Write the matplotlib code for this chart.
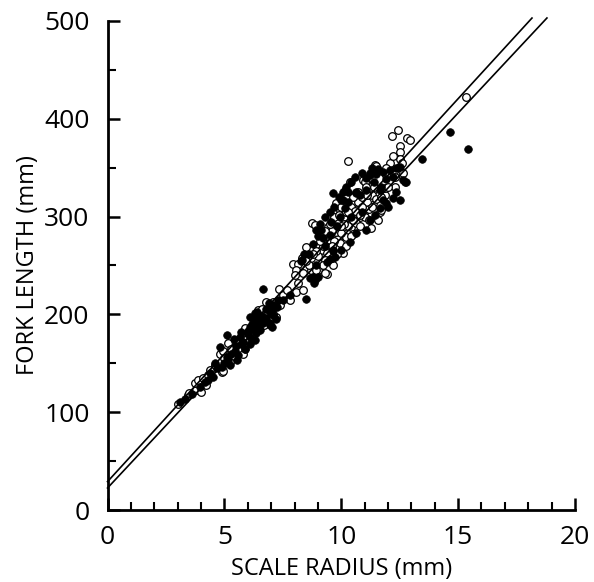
import matplotlib
matplotlib.use("Agg")
import matplotlib.pyplot as plt
import numpy as np

plt.rcParams["font.family"] = ["Open Sans", "DejaVu Sans"]

# filled circles (scale radius mm, fork length mm)
filled_x = [3.1, 3.3, 3.6, 3.95, 4.15, 4.52, 4.88, 5.23, 5.17, 4.8, 5.1, 5.52, 5.6, 5.45,
            5.1, 5.7, 5.66, 5.73, 5.95, 6.08, 6.3, 6.37, 6.16, 6.09, 6.3, 6.52, 6.8, 6.95,
            7.02, 6.94, 7.23, 6.66, 6.93, 7.02, 7.08, 6.38, 6.24, 6.09, 6.66, 6.52, 6.94,
            7.8, 8.51, 8.27, 8.87, 9.0, 8.82, 9.5, 9.66, 8.94, 8.3, 9.65, 9.37, 9.22, 9.51,
            9.15, 9.58, 9.94, 10.15, 10.0, 10.08, 10.29, 10.65, 10.79, 11.08, 11.22, 11.5,
            11.57, 11.79, 12.07, 12.5, 12.71, 12.36, 12.5, 12.21, 11.93, 11.65, 11.43, 11.22,
            11.08, 10.65, 10.36, 10.0, 9.72, 13.45, 12.36, 12.64, 12.79, 11.22, 11.08, 10.15,
            10.65, 10.08, 11.65, 11.79, 12.0, 9.65, 14.67, 15.44, 8.79, 8.65, 4.6, 4.4,
            9.3, 9.8, 10.4, 10.9, 5.9, 6.2, 7.5,
            4.3, 4.7, 5.0, 5.3, 5.5, 5.8, 6.0, 6.2, 6.4, 6.6, 6.8, 7.1, 7.3, 5.4, 5.9,
            6.1, 6.5, 7.2, 8.6, 8.8, 9.0, 9.1, 9.3, 9.5, 9.7, 9.9, 10.2, 10.4, 10.6,
            10.9, 11.3, 10.3, 11.4, 11.9, 12.2, 8.4, 8.9, 11.7]
filled_y = [110.7, 114, 119, 126, 131, 136, 146, 148, 153, 167, 156.5, 153, 158, 163,
            179, 170, 177, 182, 180.7, 177, 174, 181, 185.8, 197.7, 201, 194, 196, 191,
            187.5, 202.8, 208, 225.6, 212, 204.5, 199.5, 202.8, 196, 187.4, 191, 184, 189,
            219.8, 215.4, 255, 235, 238, 231.6, 257, 265, 286, 255.6, 265.8, 254, 277.8, 281,
            286, 294.8, 299.9, 308.5, 317, 325.5, 325.5, 323.8, 322, 327, 342.5, 344,
            349, 346, 347.6, 351, 335.7, 325.5, 317, 318.7, 313.6, 308.5, 301.6, 296.5,
            286.3, 283, 274.3, 265.8, 259, 358.6, 349.4, 337.4, 335.7, 344.3, 339, 327,
            325.5, 317, 327, 317, 310, 323.8, 386.5, 369, 238.5, 237, 150, 140,
            270, 290, 300, 305, 165, 190, 215,
            133, 145, 150, 160, 168, 172, 183, 188, 190, 198, 205, 210, 215, 175, 165,
            170, 186, 195, 262, 272, 280, 292, 300, 305, 310, 320, 330, 335, 340,
            345, 350, 315, 335, 338, 340, 262, 250, 330]

# open circles
open_x = [3.0, 3.45, 3.78, 4.02, 3.74, 3.88, 4.1, 4.31, 4.38, 4.88, 4.95, 5.23, 4.8, 4.94,
          5.16, 5.8, 5.87, 6.45, 6.44, 6.68, 7.01, 7.08, 7.34, 6.78, 7.37, 7.22, 5.87, 7.8,
          8.08, 8.37, 8.15, 7.94, 8.22, 8.51, 8.72, 9.01, 9.37, 10.29, 10.36, 8.73, 8.87,
          8.14, 8.08, 8.37, 8.94, 9.3, 9.65, 10.08, 11.08, 10.93, 11.43, 12.07, 11.93, 12.57,
          12.29, 11.57, 11.86, 11.65, 11.29, 11.57, 9.65, 10.86, 10.58, 10.43, 10.22, 9.86,
          9.51, 9.15, 9.37, 10.79, 10.5, 10.29, 10.08, 9.79, 9.51, 9.44, 9.94, 10.65, 11.08,
          11.36, 11.22, 12.43, 12.15, 12.81, 12.96, 12.5, 12.53, 12.5, 11.5, 12.64, 11.0,
          11.08, 11.36, 11.86, 11.72, 9.79, 9.94, 15.32, 9.2, 9.4, 9.6, 9.7, 9.9, 10.0,
          10.1, 10.2, 10.3, 10.4, 10.5, 10.6, 10.7, 10.8, 10.9, 11.0, 11.1, 11.2, 11.3,
          11.4, 10.0, 9.8, 9.6, 9.3, 9.0, 8.9, 8.7, 8.6, 10.5, 10.2,
          3.5, 4.2, 4.6, 5.0, 5.3, 5.6, 6.2, 6.6, 7.1, 7.5, 7.7, 8.0, 8.3, 8.5, 8.8,
          9.1, 9.3, 9.5, 9.7, 9.9, 10.1, 10.3, 10.5, 10.7, 10.9, 11.1, 11.3, 11.5, 11.7,
          12.0, 12.3, 12.6, 10.8, 10.4, 10.0, 9.6, 9.2, 11.9, 12.2, 11.2]
open_y = [108, 117.6, 122.7, 121, 129.5, 133, 135, 138, 143, 141, 142, 151, 160, 163,
          170.5, 160, 174, 201, 204.5, 189, 206, 213, 225.6, 213, 209.6, 197.8, 185.7, 214.7,
          223, 225, 231.8, 252, 250, 269, 245.4, 245.4, 241, 357, 335.7, 293.8, 291.4,
          252, 245.4, 242, 245, 242, 250.5, 263, 335.7, 337, 352.8, 354.5, 342.5, 344,
          330.6, 323.8, 322, 305, 288, 296.5, 296.5, 311.9, 301.6, 289.7, 279.4, 277.8,
          269.2, 265.8, 262.5, 299.9, 313.6, 299.9, 289.7, 284.6, 276, 289.7, 272.7, 293, 306.7,
          313.6, 318.7, 388.5, 382.4, 380, 378, 372, 365.7, 358.6, 351.7, 344.3, 335.7,
          330.6, 327, 329, 306.7, 313.6, 306.7, 422.6, 270, 280, 285, 275, 295, 283,
          298, 305, 290, 310, 296, 306, 315, 290, 320, 300, 315, 308, 322,
          330, 310, 262, 258, 256, 260, 265, 258, 250, 282, 270,
          120, 128, 148, 155, 165, 172, 180, 206, 200, 220, 225, 240, 258, 255, 262,
          275, 285, 292, 300, 302, 292, 305, 320, 325, 310, 322, 310, 318, 320,
          330, 340, 355, 302, 280, 290, 270, 250, 350, 362, 296]

# regression lines: intercept, slope, end of line on x
line_intercepts = [29.0, 22.5]
line_slopes = [26.1, 25.56]
line_ends = [18.16, 18.8]

fig = plt.figure(figsize=(5.94, 5.82), dpi=100)
ax = fig.add_axes([0.181, 0.1237, 0.787, 0.8403])

for b, m, xe in zip(line_intercepts, line_slopes, line_ends):
    xs = np.array([0.0, xe])
    ax.plot(xs, b + m * xs, color="black", lw=1.2, clip_on=False, zorder=3)

# open first, filled drawn over them
ax.plot(open_x, open_y, "o", mfc="white", mec="black", mew=0.9, ms=5.5,
        linestyle="none", zorder=2)
ax.plot(filled_x, filled_y, "o", mfc="black", mec="black", mew=0.5, ms=5.5,
        linestyle="none", zorder=2)

ax.set_xlim(0, 20)
ax.set_ylim(0, 500)
ax.set_xticks([0, 5, 10, 15, 20])
ax.set_xticks(np.arange(0, 21, 1), minor=True)
ax.set_yticks([0, 100, 200, 300, 400, 500])
ax.set_yticks(np.arange(0, 501, 50), minor=True)

for side in ["top", "right"]:
    ax.spines[side].set_visible(False)
for side in ["left", "bottom"]:
    ax.spines[side].set_linewidth(2.0)

ax.tick_params(which="major", direction="in", length=8.5, width=1.8, labelsize=19)
ax.tick_params(axis="x", which="major", pad=11)
ax.tick_params(axis="y", which="major", pad=13)
ax.tick_params(which="minor", direction="in", length=5.5, width=1.5)

ax.set_xlabel("SCALE RADIUS (mm)", fontsize=17, labelpad=5)
ax.set_ylabel("FORK LENGTH (mm)", fontsize=17, labelpad=3)

fig.savefig("out.png", dpi=100)
